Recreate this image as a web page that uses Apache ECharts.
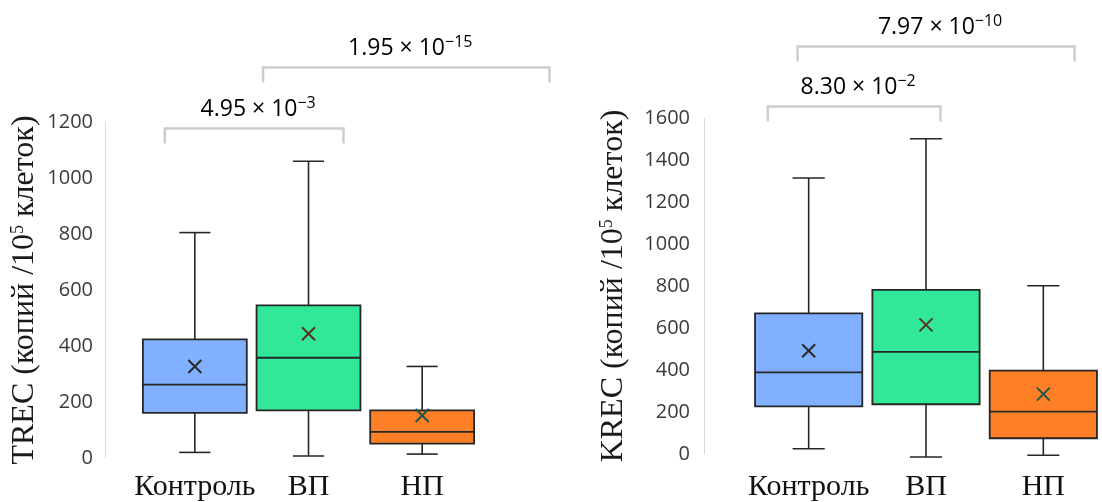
<!DOCTYPE html>
<html>
<head>
<meta charset="utf-8">
<script src="https://cdn.jsdelivr.net/npm/echarts@6/dist/echarts.min.js"></script>
<style>
  html, body { margin: 0; padding: 0; background: #fff; }
  #main { width: 1102px; height: 502px; }
</style>
</head>
<body>
<div id="main"></div>
<script>
// группы
var categories = ['Контроль', 'ВП', 'НП'];

// TREC (копий / 10^5 клеток)
var trecMin    = [20, 7, 14];
var trecQ1     = [161, 170, 51];
var trecMedian = [262, 358, 93];
var trecQ3     = [424, 545, 170];
var trecMax    = [805, 1060, 327];
var trecMean   = [327, 444, 152];

// KREC (копий / 10^5 клеток)
var krecMin    = [25, -14, -6];
var krecQ1     = [227, 237, 75];
var krecMedian = [389, 486, 202];
var krecQ3     = [670, 782, 397];
var krecMax    = [1314, 1501, 801];
var krecMean   = [492, 615, 285];

// p-значения: мантисса и степень
var trecPMantissa = ['4.95', '1.95'];
var trecPPower    = ['−3', '−15'];
var krecPMantissa = ['8.30', '7.97'];
var krecPPower    = ['−2', '−10'];

// скобки сравнения (индекс группы + сдвиг в долях полосы, уровень по оси Y)
var trecBrackets = [
  {from: [0, -0.264], to: [1, 0.308], level: 1177},
  {from: [1, -0.40], to: [2, 1.12], level: 1395}
];
var krecBrackets = [
  {from: [0, -0.348], to: [1, 0.123], level: 1655},
  {from: [0, -0.094], to: [2, 0.266], level: 1941}
];

var fills = ['#80b0ff', '#30e898', '#ff7f27'];
var crossColors = ['#2a2a2a', '#5c2d1e', '#1d5a4a'];
var edge = '#262626';

function line(x1, y1, x2, y2, color, lw) {
  return {type: 'line', shape: {x1: x1, y1: y1, x2: x2, y2: y2},
    style: {stroke: color || edge, lineWidth: lw || 1.6}};
}

function boxSeries(idx, mins, q1s, meds, q3s, maxs, means) {
  return {
    type: 'custom',
    xAxisIndex: idx,
    yAxisIndex: idx,
    clip: false,
    encode: {x: 0, y: [1, 2, 3, 4, 5, 6]},
    data: categories.map(function (c, i) {
      return [i, mins[i], q1s[i], meds[i], q3s[i], maxs[i], means[i]];
    }),
    renderItem: function (params, api) {
      var i = api.value(0);
      var p = function (v) { return api.coord([i, v]); };
      var cx = p(api.value(3))[0];
      var yMin = p(api.value(1))[1], yQ1 = p(api.value(2))[1], yMed = p(api.value(3))[1];
      var yQ3 = p(api.value(4))[1], yMax = p(api.value(5))[1], yMean = p(api.value(6))[1];
      var band = api.size([1, 0])[0];
      var w = band * 0.914, cap = w * 0.3, x0 = cx - w / 2, m = 6.5;
      return {
        type: 'group',
        children: [
          line(cx, yMax, cx, yQ3),
          line(cx, yQ1, cx, yMin),
          line(cx - cap / 2, yMax, cx + cap / 2, yMax),
          line(cx - cap / 2, yMin, cx + cap / 2, yMin),
          {type: 'rect', shape: {x: x0, y: yQ3, width: w, height: yQ1 - yQ3},
            style: {fill: fills[i], stroke: edge, lineWidth: 1.8}},
          line(x0, yMed, x0 + w, yMed, edge, 1.8),
          line(cx - m, yMean - m, cx + m, yMean + m, crossColors[i], 2),
          line(cx - m, yMean + m, cx + m, yMean - m, crossColors[i], 2)
        ]
      };
    }
  };
}

function bracketSeries(idx, brackets, mantissa, power) {
  return {
    type: 'custom',
    xAxisIndex: idx,
    yAxisIndex: idx,
    clip: false,
    silent: true,
    encode: {x: 0, y: 1},
    data: brackets.map(function (b) { return [b.from[0], b.level]; }),
    renderItem: function (params, api) {
      var b = brackets[params.dataIndex];
      var band = api.size([1, 0])[0];
      var a = api.coord([b.from[0], b.level]);
      var c = api.coord([b.to[0], b.level]);
      var xa = a[0] + b.from[1] * band;
      var xc = c[0] + b.to[1] * band;
      var y = a[1], legs = 15, col = '#cdcdcd';
      return {
        type: 'group',
        children: [
          line(xa, y, xc, y, col, 2.5),
          line(xa, y - 1.2, xa, y + legs, col, 2.5),
          line(xc, y - 1.2, xc, y + legs, col, 2.5),
          {type: 'text', style: {
            x: (xa + xc) / 2 + 4, y: y - 19, align: 'center', verticalAlign: 'middle',
            text: '{m|' + mantissa[params.dataIndex] + ' × 10}{s|' + power[params.dataIndex] + '}',
            rich: {
              m: {fontFamily: 'Open Sans', fontSize: 23, color: '#222', lineHeight: 28},
              s: {fontFamily: 'Open Sans', fontSize: 16, color: '#222', lineHeight: 18, verticalAlign: 'top'}
            }
          }}
        ]
      };
    }
  };
}

function yName(prefix) {
  return '{t|' + prefix + ' (копий /10}{s|5}{t| клеток)}';
}
var nameRich = {
  t: {fontFamily: 'Liberation Serif', fontSize: 32, color: '#1a1a1a', lineHeight: 32},
  s: {fontFamily: 'Liberation Serif', fontSize: 18, color: '#1a1a1a', lineHeight: 18, verticalAlign: 'top'}
};

function xAxis(idx, margin) {
  return {
    type: 'category', gridIndex: idx, data: categories,
    axisLine: {show: false}, axisTick: {show: false}, splitLine: {show: false},
    axisLabel: {interval: 0, margin: margin, fontFamily: 'Liberation Serif', fontSize: 30, color: '#111'}
  };
}

function yAxis(idx, max, offset, margin, gap, prefix) {
  return {
    type: 'value', gridIndex: idx, min: 0, max: max, interval: 200, offset: offset,
    axisLine: {show: true, lineStyle: {color: '#d9d9d9', width: 1}},
    axisTick: {show: false}, splitLine: {show: false},
    axisLabel: {margin: margin, fontFamily: 'Open Sans', fontSize: 20, color: '#3a3a3a',
      formatter: function (v) { return String(v); }},
    name: yName(prefix), nameLocation: 'middle', nameGap: gap,
    nameTextStyle: {rich: nameRich}
  };
}

var chart = echarts.init(document.getElementById('main'));
chart.setOption({
  animation: false,
  backgroundColor: '#fff',
  grid: [
    {left: 138, right: 623, top: 122, bottom: 44},
    {left: 750, right: -13, top: 118, bottom: 48}
  ],
  xAxis: [xAxis(0, 14), xAxis(1, 18)],
  yAxis: [
    yAxis(0, 1200, 33, 12, 64, 'TREC'),
    yAxis(1, 1600, 46, 14, 74, 'KREC')
  ],
  series: [
    boxSeries(0, trecMin, trecQ1, trecMedian, trecQ3, trecMax, trecMean),
    boxSeries(1, krecMin, krecQ1, krecMedian, krecQ3, krecMax, krecMean),
    bracketSeries(0, trecBrackets, trecPMantissa, trecPPower),
    bracketSeries(1, krecBrackets, krecPMantissa, krecPPower)
  ]
});
</script>
</body>
</html>
